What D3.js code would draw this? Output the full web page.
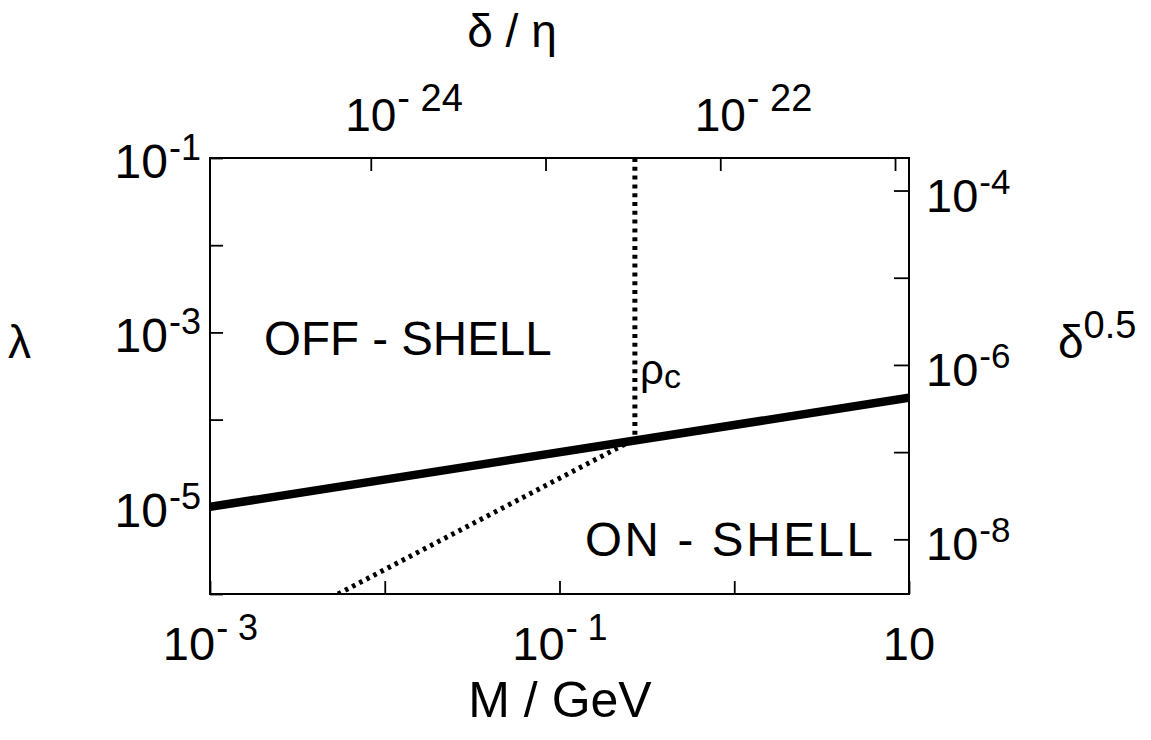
<!DOCTYPE html>
<html>
<head>
<meta charset="utf-8">
<script src="https://cdn.jsdelivr.net/npm/d3@7"></script>
<style>
  html, body { margin: 0; padding: 0; background: #fff; }
  svg { display: block; }
  text { font-family: "Liberation Sans", Arial, Helvetica, sans-serif; fill: #000; }
</style>
</head>
<body>
<svg id="chart" width="1151" height="740"></svg>
<script>
// ---- data ----
const massDomain = [1e-3, 10];                       // M / GeV (bottom)
const lambdaDomain = [1e-6, 1e-1];                   // lambda (left)
const deltaDomain = [Math.pow(10, -8.627), Math.pow(10, -3.627)]; // delta^0.5 (right)
const ratioDomain = [Math.pow(10, -24.92), Math.pow(10, -20.92)]; // delta / eta (top)

const bottomTicks = [1e-3, 1e-2, 1e-1, 1, 10];
const bottomLabels = [[1e-3, "- 3"], [1e-1, "- 1"], [10, ""]];
const leftTicks = [1e-6, 1e-5, 1e-4, 1e-3, 1e-2, 1e-1];
const leftLabels = [[1e-1, "-1"], [1e-3, "-3"], [1e-5, "-5"]];
const rightTicks = [1e-8, 1e-7, 1e-6, 1e-5, 1e-4];
const rightLabels = [[1e-4, "-4"], [1e-6, "-6"], [1e-8, "-8"]];
const topTicks = [1e-24, 1e-23, 1e-22, 1e-21];
const topLabels = [[1e-24, "- 24"], [1e-22, "- 22"]];

// solid boundary between off-shell and on-shell
const boundaryM = [1e-3, 10];
const boundaryLambda = [1e-5, 1.78e-4];
// vertical dotted line rho_c
const criticalM = [0.27, 0.27];
const criticalLambda = [1e-1, 6.0e-5];
// diagonal dotted line
const diagM = [0.0054, 0.27];
const diagLambda = [1e-6, 6.0e-5];

// ---- layout ----
const L = 210, R = 909, T = 158, B = 594;
const svg = d3.select("#chart");

const x = d3.scaleLog().domain(massDomain).range([L, R]);
const y = d3.scaleLog().domain(lambdaDomain).range([B, T]);
const yR = d3.scaleLog().domain(deltaDomain).range([B, T]);
const xT = d3.scaleLog().domain(ratioDomain).range([L, R]);

svg.append("clipPath").attr("id", "clip")
  .append("rect").attr("x", L).attr("y", T).attr("width", R - L).attr("height", B - T);

// axes (ticks inward, no d3 labels)
function styleAxis(g) {
  g.select(".domain").remove();
  g.selectAll(".tick line").attr("stroke", "#000").attr("stroke-width", 1.8);
  g.selectAll(".tick text").remove();
}
svg.append("g").attr("transform", `translate(0,${B})`)
  .call(d3.axisBottom(x).tickValues(bottomTicks).tickSize(-13).tickFormat(() => "")).call(styleAxis);
svg.append("g").attr("transform", `translate(${L},0)`)
  .call(d3.axisLeft(y).tickValues(leftTicks).tickSize(-13).tickFormat(() => "")).call(styleAxis);
svg.append("g").attr("transform", `translate(${R},0)`)
  .call(d3.axisRight(yR).tickValues(rightTicks).tickSize(-15).tickFormat(() => "")).call(styleAxis);
svg.append("g").attr("transform", `translate(0,${T})`)
  .call(d3.axisTop(xT).tickValues(topTicks).tickSize(-13).tickFormat(() => "")).call(styleAxis);

// lines
const line = d3.line().x(d => x(d[0])).y(d => y(d[1]));
const g = svg.append("g").attr("clip-path", "url(#clip)");
g.append("path").datum(d3.zip(diagM, diagLambda)).attr("d", line)
  .attr("fill", "none").attr("stroke", "#000").attr("stroke-width", 5).attr("stroke-dasharray", "3.5,4.5");
g.append("path").datum(d3.zip(criticalM, criticalLambda)).attr("d", line)
  .attr("fill", "none").attr("stroke", "#000").attr("stroke-width", 5).attr("stroke-dasharray", "4,4.8");
g.append("path").datum(d3.zip(boundaryM, boundaryLambda)).attr("d", line)
  .attr("fill", "none").attr("stroke", "#000").attr("stroke-width", 8.5);

// frame
svg.append("rect").attr("x", L).attr("y", T).attr("width", R - L).attr("height", B - T)
  .attr("fill", "none").attr("stroke", "#000").attr("stroke-width", 2);

// tick labels: "10" with superscript
function powLabel(px, baseline, sup, anchor, centerOnBase, fs, sfs, dy) {
  const t = svg.append("text").attr("y", baseline).attr("font-size", fs);
  t.append("tspan").text("10");
  if (sup) t.append("tspan").attr("font-size", sfs).attr("dy", -dy).attr("dx", 1).text(sup);
  const w = t.node().getComputedTextLength();
  const baseW = t.select("tspan").node().getComputedTextLength();
  let x0;
  if (anchor === "end") x0 = px - w;
  else if (anchor === "start") x0 = px;
  else if (centerOnBase) x0 = px - baseW / 2;
  else x0 = px - w / 2;
  t.attr("x", x0);
  return t;
}
bottomLabels.forEach(([v, s]) => powLabel(x(v), 660, s, "middle", false, 47, 36, 20));
topLabels.forEach(([v, s]) => powLabel(xT(v), 131, s, "middle", true, 46, 38, 20));
leftLabels.forEach(([v, s]) => powLabel(200, y(v) + 20, s, "end", false, 48, 36, 18));
rightLabels.forEach(([v, s]) => powLabel(926, yR(v) + 21, s, "start", false, 47, 35, 18));

// axis titles
svg.append("text").attr("x", 560).attr("y", 717).attr("text-anchor", "middle").attr("font-size", 50).text("M / GeV");
svg.append("text").attr("x", 512).attr("y", 47).attr("text-anchor", "middle").attr("font-size", 46).text("δ / η");
svg.append("text").attr("x", 8).attr("y", 358).attr("font-size", 46).text("λ");
const dr = svg.append("text").attr("x", 1058).attr("y", 358).attr("font-size", 46);
dr.append("tspan").text("δ");
dr.append("tspan").attr("font-size", 38).attr("dy", -20).text("0.5");

// region labels
svg.append("text").attr("x", 264).attr("y", 355).attr("font-size", 47.5).text("OFF - SHELL");
svg.append("text").attr("x", 585).attr("y", 556).attr("font-size", 47.5)
  .attr("textLength", 288).attr("lengthAdjust", "spacing").text("ON - SHELL");
const rho = svg.append("text").attr("x", 640).attr("y", 384).attr("font-size", 42);
rho.append("tspan").text("ρ");
rho.append("tspan").attr("font-size", 34).attr("dy", 4).text("c");
</script>
</body>
</html>
